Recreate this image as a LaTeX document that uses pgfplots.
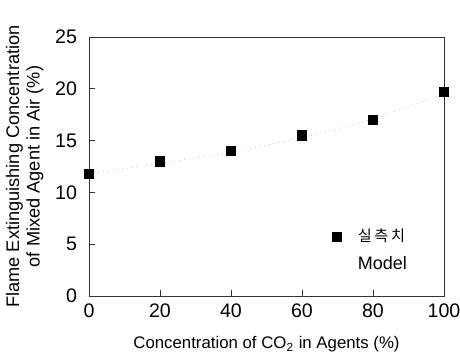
\documentclass[border=0pt]{standalone}
\usepackage{fontspec}
\setmainfont{Liberation Sans}
\newfontfamily\cjk{Noto Sans CJK KR}
\usepackage{pgfplots}
\pgfplotsset{compat=1.18}
\begin{document}
\begin{tikzpicture}
\begin{axis}[
  name=ax,
  scale only axis,
  width=177.5pt, height=129.5pt,
  xmin=0, xmax=100, ymin=0, ymax=25,
  xtick={0,20,40,60,80,100},
  ytick={0,5,10,15,20,25},
  tick pos=left,
  tick align=inside,
  major tick length=3pt,
  tick style={black!80, thin},
  axis line style={black!80, thin},
  clip=false,
  font=\fontsize{9.8}{10}\selectfont,
  /pgf/number format/assume math mode=true,
  yticklabel style={xshift=-2.5pt},
  xticklabel style={yshift=-0.5pt},
  xlabel={Concentration of CO\textsubscript{2} in Agents (\%)},
  ylabel={Flame Extinguishing Concentration\\of Mixed Agent in Air (\%)},
  ylabel style={align=center, font=\fontsize{9.1}{10.2}\selectfont, yshift=-1pt},
  xlabel style={font=\fontsize{8.4}{10}\selectfont, yshift=-2.5pt},
  legend style={draw=none, fill=none, at={(0.632,0.29)}, anchor=north west,
    font=\fontsize{9}{12}\selectfont, row sep=2pt},
  legend cell align=left,
]
\addplot[only marks, mark=square*, mark size=2.3pt, black]
  coordinates {(0,11.8) (20,13.0) (40,14.0) (60,15.5) (80,17.0) (100,19.7)};
\addlegendentry{{\cjk\fontsize{7.6}{9}\selectfont 실\hspace{1.3pt}측\hspace{1.3pt}치}}
\addplot[gray!50, dotted, line width=0.4pt, smooth,
  legend image code/.code={\path[draw=none] (0cm,0cm) -- (0.6cm,0cm);}]
  coordinates {(0,11.8) (20,12.8) (40,13.9) (60,15.3) (80,17.1) (100,19.6)};
\addlegendentry{Model}
\end{axis}
\pgfresetboundingbox
\path ([xshift=-44.5pt,yshift=-29pt]ax.south west) rectangle ([xshift=8pt,yshift=18.5pt]ax.north east);
\end{tikzpicture}
\end{document}
